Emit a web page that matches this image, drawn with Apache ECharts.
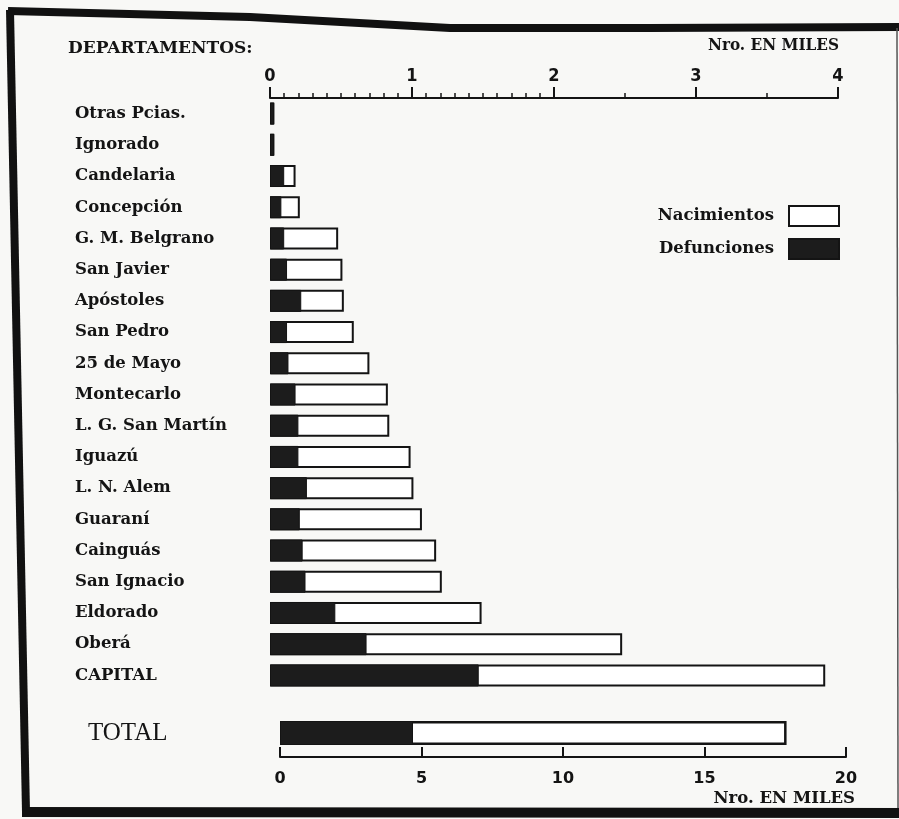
<!DOCTYPE html>
<html>
<head>
<meta charset="utf-8">
<script src="https://cdn.jsdelivr.net/npm/echarts@6/dist/echarts.min.js"></script>
<style>
	html, body { margin: 0; padding: 0; background: #f8f8f6; }
	#chart { width: 899px; height: 819px; }
</style>
</head>
<body>
<div id="chart"></div>
<script>
// departamentos (de arriba hacia abajo)
const departamentos = [
	"Otras Pcias.", "Ignorado", "Candelaria", "Concepción", "G. M. Belgrano",
	"San Javier", "Apóstoles", "San Pedro", "25 de Mayo", "Montecarlo",
	"L. G. San Martín", "Iguazú", "L. N. Alem", "Guaraní", "Cainguás",
	"San Ignacio", "Eldorado", "Oberá", "CAPITAL"
];
// miles
const nacimientos = [0.03, 0.03, 0.18, 0.21, 0.48, 0.51, 0.52, 0.59, 0.70, 0.83, 0.84, 0.99, 1.01, 1.07, 1.17, 1.21, 1.49, 2.48, 3.91];
const defunciones = [0.03, 0.03, 0.10, 0.08, 0.10, 0.12, 0.22, 0.12, 0.13, 0.18, 0.20, 0.20, 0.26, 0.21, 0.23, 0.25, 0.46, 0.68, 1.47];
const totalNacimientos = [17.9];
const totalDefunciones = [4.7];

const serif = "DejaVu Serif";
const ink = "#141414";

const chart = echarts.init(document.getElementById("chart"));

const option = {
	backgroundColor: "#f8f8f6",
	animation: false,
	legend: {
		data: ["Nacimientos", "Defunciones"],
		orient: "vertical",
		align: "right",
		right: 59,
		top: 205,
		padding: 0,
		itemWidth: 50,
		itemHeight: 20,
		itemGap: 11,
		icon: "rect",
		textStyle: { fontFamily: serif, fontWeight: "bold", fontSize: 16.5, color: ink, padding: [0, 10, 0, 0] }
	},
	grid: [
		{ left: 270, right: 61, top: 98, height: 593 }, // departamentos
		{ left: 280, right: 53, top: 709, height: 48 }, // total
		{ left: 270, width: 284, top: 98, height: 10 }, // marcas 0-2
		{ left: 554, width: 284, top: 98, height: 10 } // marcas 2-4
	],
	xAxis: [
		{
			gridIndex: 0,
			type: "value",
			position: "top",
			min: 0,
			max: 4,
			interval: 1,
			axisLine: { show: true, lineStyle: { color: ink, width: 2 } },
			axisTick: { show: true, length: 11, lineStyle: { color: ink, width: 2 } },
			axisLabel: { margin: 13, fontFamily: "DejaVu Sans Condensed", fontWeight: "bold", fontSize: 18, color: ink },
			splitLine: { show: false }
		},
		{
			gridIndex: 1,
			type: "value",
			position: "bottom",
			min: 0,
			max: 20,
			interval: 5,
			axisLine: { show: true, lineStyle: { color: ink, width: 2 } },
			axisTick: { show: true, inside: true, length: 10, lineStyle: { color: ink, width: 2 } },
			axisLabel: { margin: 14, fontFamily: "DejaVu Sans", fontWeight: "bold", fontSize: 16, color: ink },
			splitLine: { show: false }
		},
		{
			gridIndex: 2,
			type: "value",
			position: "top",
			min: 0,
			max: 2,
			interval: 0.1,
			axisLine: { show: false, onZero: false },
			axisTick: { show: true, length: 5, lineStyle: { color: ink, width: 1.5 } },
			axisLabel: { show: false },
			splitLine: { show: false }
		},
		{
			gridIndex: 3,
			type: "value",
			position: "top",
			min: 2,
			max: 4,
			interval: 0.5,
			axisLine: { show: false, onZero: false },
			axisTick: { show: true, length: 5, lineStyle: { color: ink, width: 1.5 } },
			axisLabel: { show: false },
			splitLine: { show: false }
		}
	],
	yAxis: [
		{
			gridIndex: 0,
			type: "category",
			inverse: true,
			data: departamentos,
			axisLine: { show: false },
			axisTick: { show: false },
			axisLabel: {
				align: "left",
				margin: 195,
				fontFamily: serif,
				fontWeight: "bold",
				fontSize: 16.5,
				color: ink
			}
		},
		{
			gridIndex: 1,
			type: "category",
			data: ["TOTAL"],
			axisLine: { show: false },
			axisTick: { show: false },
			axisLabel: {
				align: "left",
				margin: 192,
				fontFamily: "Liberation Serif",
				fontSize: 25,
				color: ink
			}
		},
		{ gridIndex: 2, type: "value", show: false },
		{ gridIndex: 3, type: "value", show: false }
	],
	graphic: [
		{
			type: "text",
			left: 68,
			top: 40,
			style: { text: "DEPARTAMENTOS:", font: "bold 17px 'DejaVu Serif'", fill: ink }
		},
		{
			type: "text",
			right: 60,
			top: 37,
			style: { text: "Nro. EN MILES", font: "bold 17px 'DejaVu Serif Condensed'", fill: ink }
		},
		{
			type: "text",
			right: 44,
			top: 790,
			style: { text: "Nro. EN MILES", font: "bold 16.5px 'DejaVu Serif'", fill: ink }
		},
		// marco de la pagina
		{
			type: "polyline",
			shape: { points: [[8, 11], [250, 17], [450, 28], [650, 28], [899, 27]] },
			style: { stroke: "#111", lineWidth: 8, fill: null }
		},
		{
			type: "line",
			shape: { x1: 10, y1: 10, x2: 26, y2: 812 },
			style: { stroke: "#111", lineWidth: 8 }
		},
		{
			type: "line",
			shape: { x1: 22, y1: 812, x2: 899, y2: 813 },
			style: { stroke: "#111", lineWidth: 10 }
		},
		{
			type: "line",
			shape: { x1: 897, y1: 28, x2: 898, y2: 808 },
			style: { stroke: "#555", lineWidth: 1.5 }
		}
	],
	series: [
		{
			name: "Nacimientos",
			type: "bar",
			xAxisIndex: 0,
			yAxisIndex: 0,
			barWidth: 22,
			barGap: "-100%",
			itemStyle: { color: "#fff", borderColor: ink, borderWidth: 2 },
			data: nacimientos
		},
		{
			name: "Defunciones",
			type: "bar",
			xAxisIndex: 0,
			yAxisIndex: 0,
			barWidth: 22,
			barGap: "-100%",
			itemStyle: { color: "#1c1c1c", borderColor: ink, borderWidth: 1 },
			data: defunciones
		},
		{
			name: "Nacimientos",
			type: "bar",
			xAxisIndex: 1,
			yAxisIndex: 1,
			barWidth: 24,
			barGap: "-100%",
			itemStyle: { color: "#fff", borderColor: ink, borderWidth: 2.5 },
			data: totalNacimientos
		},
		{
			name: "Defunciones",
			type: "bar",
			xAxisIndex: 1,
			yAxisIndex: 1,
			barWidth: 24,
			barGap: "-100%",
			itemStyle: { color: "#1c1c1c", borderColor: ink, borderWidth: 1 },
			data: totalDefunciones
		}
	]
};

chart.setOption(option);
</script>
</body>
</html>
